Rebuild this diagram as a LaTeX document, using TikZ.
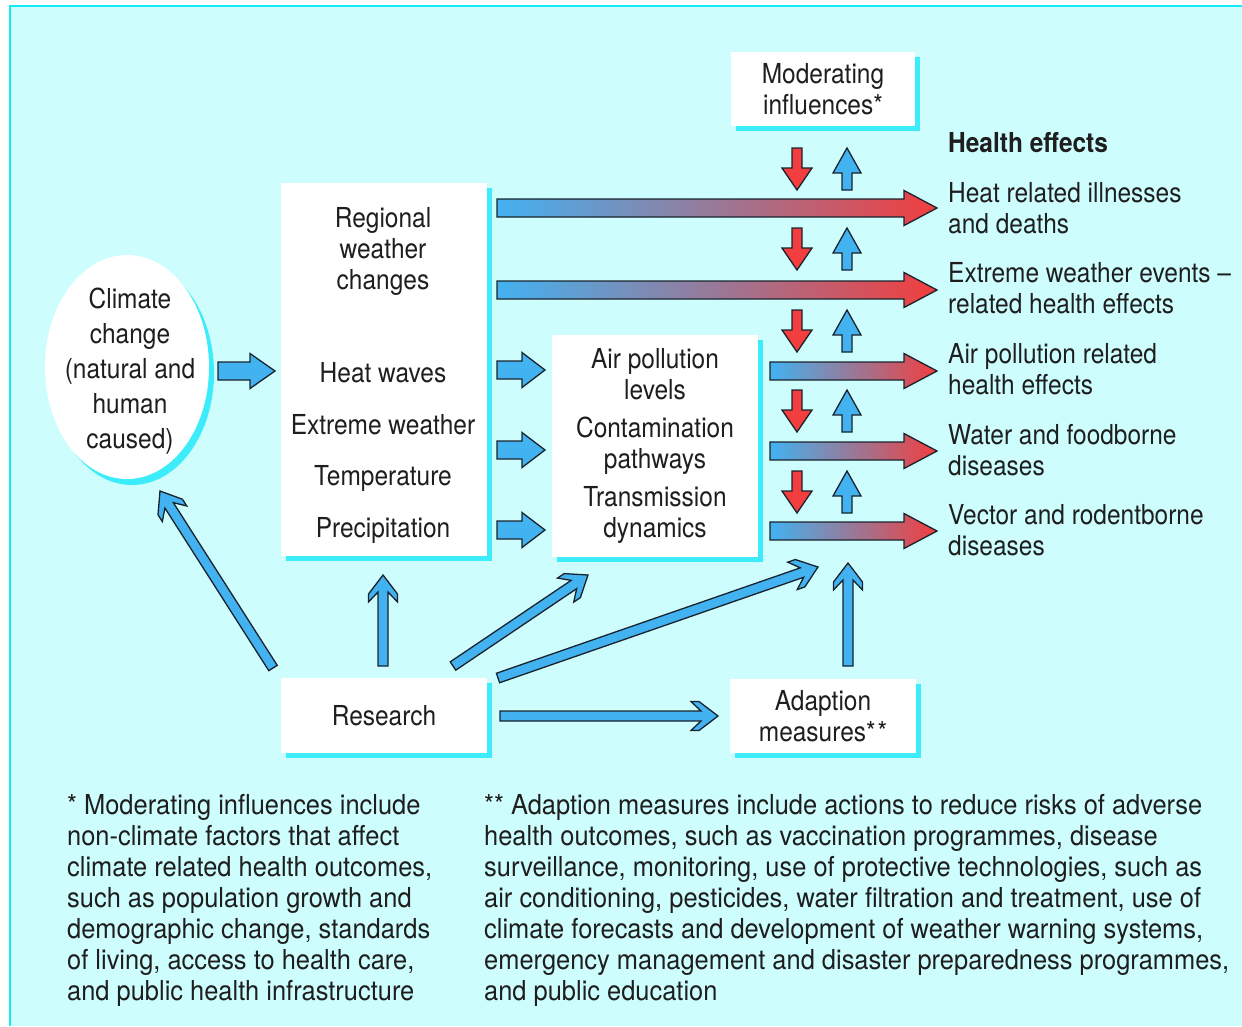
\documentclass[tikz,border=0pt]{standalone}
\usepackage{fontspec}
\setmainfont{TeX Gyre Heros}[FakeStretch=0.89]
\newfontfamily\fnfont{TeX Gyre Heros}[FakeStretch=0.925]
\usetikzlibrary{calc,shapes.geometric,shadows}
\definecolor{bgc}{RGB}{206,253,253}
\definecolor{edgec}{RGB}{20,235,250}
\definecolor{shc}{RGB}{60,236,250}
\definecolor{ablue}{RGB}{66,178,240}
\definecolor{ared}{RGB}{242,62,62}
\definecolor{outc}{RGB}{25,35,45}
\definecolor{txtc}{RGB}{30,30,30}
\newcommand{\blockarr}[6]{%
  \coordinate (ba-h) at ($(#3)!#6!(#2)$);
  \draw[#1] ($(#2)!#4!90:(#3)$) -- ($(ba-h)!#4!90:(#3)$) -- ($(ba-h)!#5!90:(#3)$) -- (#3)
    -- ($(ba-h)!#5!-90:(#3)$) -- ($(ba-h)!#4!-90:(#3)$) -- ($(#2)!#4!-90:(#3)$) -- cycle;
}
\newcommand{\notcharr}[2]{%
  \coordinate (na-j) at ($(#2)!17pt!(#1)$);
  \coordinate (na-o) at ($(#2)!19pt!(#1)$);
  \coordinate (na-b) at ($(#2)!27pt!(#1)$);
  \draw[resarr] ($(#1)!5pt!90:(#2)$) -- ($(na-j)!5pt!90:(#2)$) -- ($(na-b)!14.5pt!90:(#2)$)
    -- ($(na-o)!14.5pt!90:(#2)$) -- (#2) -- ($(na-o)!14.5pt!-90:(#2)$)
    -- ($(na-b)!14.5pt!-90:(#2)$) -- ($(na-j)!5pt!-90:(#2)$) -- ($(#1)!5pt!-90:(#2)$) -- cycle;
}
\tikzset{
  box/.style={rectangle, fill=white, inner sep=0pt, text=txtc, align=center,
    drop shadow={shadow xshift=5pt, shadow yshift=-5pt, fill=shc, opacity=1}},
  txt/.style={inner sep=0pt, text=txtc, align=center},
  lbl/.style={inner sep=0pt, text=txtc, align=left, anchor=west},
  fnote/.style={inner sep=0pt, text=txtc, align=left, anchor=north west,
    font=\fnfont\fontsize{27.5}{31}\selectfont},
  bluearr/.style={fill=ablue, draw=outc, line width=1.3pt, line join=miter},
  redarr/.style={fill=ared, draw=outc, line width=1.3pt, line join=miter},
  resarr/.style={fill=ablue, draw=outc, line width=1.3pt, line join=miter},
  garr/.style={left color=ablue, right color=ared, draw=outc, line width=1.3pt, line join=miter},
}
\begin{document}
\begin{tikzpicture}[x=1pt, y=-1pt, font=\fontsize{27.5}{31}\selectfont]
\useasboundingbox (0,0) rectangle (1242,1026);
\fill[white] (0,0) rectangle (1242,1026);
\fill[bgc] (10,6) rectangle (1242,1026);
\draw[edgec, line width=2.5pt] (10,1026) -- (10,6) -- (1242,6);

% boxes
\node[box, minimum width=184pt, minimum height=74pt] (mod) at (823,89) {Moderating\\influences*};
\node[box, minimum width=206pt, minimum height=373pt] (reg) at (384,369.5) {};
\node[box, minimum width=206pt, minimum height=222pt] (mid) at (655,446) {};
\node[box, minimum width=206pt, minimum height=75pt] (res) at (384,715.5) {Research};
\node[box, minimum width=186pt, minimum height=74pt] (ada) at (823,716) {Adaption\\measures*\kern2pt*};
\node[ellipse, fill=white, inner sep=0pt, minimum width=164pt, minimum height=224pt,
  drop shadow={shadow xshift=5pt, shadow yshift=-6pt, fill=shc, opacity=1}] (cc) at (127,367) {};

% texts
\node[txt, font=\fontsize{27.5}{35}\selectfont] (cct) at (130,371) {Climate\\change\\(natural and\\human\\caused)};
\node[txt] (rwc) at (383,251) {Regional\\weather\\changes};
\node[txt] (hw) at (383,373) {Heat waves};
\node[txt] (ew) at (383,425) {Extreme weather};
\node[txt] (tp) at (383,478) {Temperature};
\node[txt] (pr) at (383,530) {Precipitation};
\node[txt] (apl) at (655,374) {Air pollution\\levels};
\node[txt] (cpw) at (655,446) {Contamination\\pathways};
\node[txt] (tdy) at (655,515) {Transmission\\dynamics};

\node[lbl, font=\fontsize{27.5}{31}\bfseries\selectfont] (he) at (948,143) {Health effects};
\node[lbl] (h1) at (948,208) {Heat related illnesses\\and deaths};
\node[lbl] (h2) at (948,288.5) {Extreme weather events --\\related health effects};
\node[lbl] (h3) at (948,369.5) {Air pollution related\\health effects};
\node[lbl] (h4) at (948,450) {Water and foodborne\\diseases};
\node[lbl] (h5) at (948,530.5) {Vector and rodentborne\\diseases};

\node[fnote] (fn1) at (67,794) {* Moderating influences include\\non-climate factors that affect\\climate related health outcomes,\\such as population growth and\\demographic change, standards\\of living, access to health care,\\and public health infrastructure};
\node[fnote] (fn2) at (484,794) {** Adaption measures include actions to reduce risks of adverse\\health outcomes, such as vaccination programmes, disease\\surveillance, monitoring, use of protective technologies, such as\\air conditioning, pesticides, water filtration and treatment, use of\\climate forecasts and development of weather warning systems,\\emergency management and disaster preparedness programmes,\\and public education};

% fat block arrows
\coordinate (f0s) at (218,371); \coordinate (f0e) at (275,371);
\blockarr{bluearr}{f0s}{f0e}{9pt}{17.5pt}{25pt}
\foreach \yy [count=\i] in {370,450,530} {
  \coordinate (fs\i) at (497,\yy); \coordinate (fe\i) at (545,\yy);
  \blockarr{bluearr}{fs\i}{fe\i}{9pt}{17.5pt}{23pt}
}

% gradient arrows
\foreach \xs/\yy [count=\i] in {497/208, 497/290, 770/371, 770/451, 770/531} {
  \coordinate (gs\i) at (\xs,\yy); \coordinate (ge\i) at (937,\yy);
  \blockarr{garr}{gs\i}{ge\i}{9pt}{17.5pt}{33pt}
}

% moderating small arrows
\foreach \yt [count=\i] in {148,228,310,390,471} {
  \coordinate (ds\i) at (797,\yt); \coordinate (de\i) at (797,\yt+42);
  \blockarr{redarr}{ds\i}{de\i}{5pt}{15pt}{22pt}
  \coordinate (us\i) at (847,\yt+42); \coordinate (ue\i) at (847,\yt);
  \blockarr{bluearr}{us\i}{ue\i}{5pt}{14pt}{25pt}
}

% research arrows
\coordinate (r1s) at (273,668); \coordinate (r1e) at (160,491);
\coordinate (r2s) at (383,666); \coordinate (r2e) at (383,575);
\coordinate (r3s) at (453,666); \coordinate (r3e) at (588,575);
\coordinate (r4s) at (498,678); \coordinate (r4e) at (818,567);
\coordinate (r5s) at (500,716); \coordinate (r5e) at (718,716);
\coordinate (r6s) at (848,666); \coordinate (r6e) at (848,563);
\notcharr{r1s}{r1e}
\notcharr{r2s}{r2e}
\notcharr{r3s}{r3e}
\notcharr{r4s}{r4e}
\notcharr{r5s}{r5e}
\notcharr{r6s}{r6e}
\end{tikzpicture}
\end{document}
